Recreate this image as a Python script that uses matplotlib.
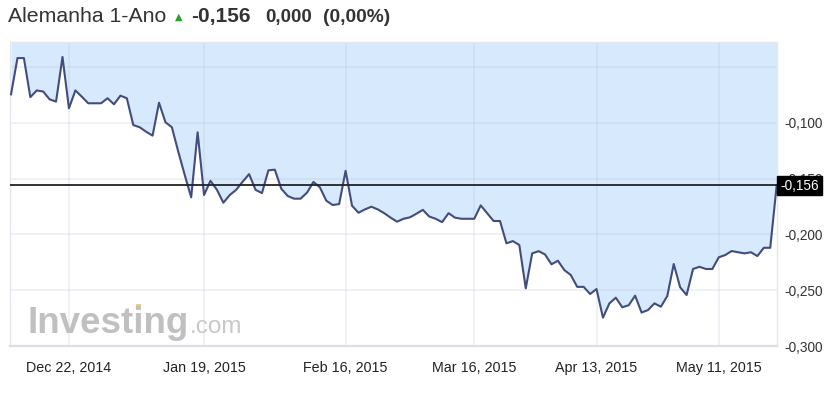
import numpy as np
import matplotlib
matplotlib.use("Agg")
import matplotlib.pyplot as plt
from matplotlib.ticker import FixedLocator, FuncFormatter
from matplotlib.patches import Rectangle

plt.rcParams['font.family'] = ['Liberation Sans', 'DejaVu Sans']

# daily yield values (Alemanha 1-Ano)
yields = [-0.0745, -0.042, -0.042, -0.077, -0.071, -0.072, -0.079, -0.081, -0.041, -0.087,
          -0.071, -0.0766, -0.0825, -0.0825, -0.0825, -0.078, -0.0834, -0.0757, -0.078, -0.102,
          -0.104, -0.108, -0.1115, -0.082, -0.0995, -0.104, -0.126, -0.1468, -0.1668, -0.1085,
          -0.1647, -0.152, -0.160, -0.1716, -0.1647, -0.160, -0.1528, -0.146, -0.160, -0.163,
          -0.1426, -0.142, -0.159, -0.1656, -0.168, -0.168, -0.1626, -0.153, -0.1578, -0.1698,
          -0.1737, -0.1728, -0.143, -0.1743, -0.1806, -0.1776, -0.1752, -0.1776, -0.181, -0.185,
          -0.1886, -0.186, -0.1847, -0.1815, -0.178, -0.184, -0.186, -0.189, -0.181, -0.185,
          -0.186, -0.186, -0.186, -0.174, -0.181, -0.188, -0.188, -0.208, -0.206, -0.2095,
          -0.2483, -0.217, -0.215, -0.218, -0.2268, -0.2236, -0.232, -0.2364, -0.247, -0.247,
          -0.2534, -0.249, -0.2746, -0.2618, -0.2567, -0.2653, -0.2635, -0.2549, -0.270, -0.2678,
          -0.2618, -0.2648, -0.2552, -0.2265, -0.2474, -0.2543, -0.231, -0.229, -0.231, -0.231,
          -0.2205, -0.2185, -0.2149, -0.216, -0.217, -0.216, -0.2194, -0.212, -0.212, -0.156]

# date labels and the index of the trading day they sit on
date_labels = ["Dec 22, 2014", "Jan 19, 2015", "Feb 16, 2015", "Mar 16, 2015", "Apr 13, 2015", "May 11, 2015"]
date_idx = [9, 30, 52, 72, 91, 110]

y_ticks = [-0.100, -0.150, -0.200, -0.250, -0.300]
last_value = -0.156

W, H = 832, 405
fig = plt.figure(figsize=(W / 100, H / 100), dpi=100)
ax = fig.add_axes([10 / W, 1 - 346 / H, (777 - 10) / W, (346 - 42) / H])

x = np.arange(len(yields))
ymax = -0.0276
ax.fill_between(x, yields, ymax, color='#d7e9fd', lw=0, zorder=1)
ax.plot(x, yields, color='#434d7d', lw=1.5, zorder=4)
ax.axhline(last_value, color='#222222', lw=1.3, zorder=5)

# grid
for gy in [-0.05] + y_ticks:
    ax.axhline(gy, color='#b8c4d8', alpha=0.28, lw=1.2, zorder=2)
for gx in date_idx:
    ax.axvline(gx, color='#b8c4d8', alpha=0.28, lw=1.2, zorder=2)

ax.set_xlim(-0.16, len(yields) - 1 + 0.05)
ax.set_ylim(-0.300, ymax)

ax.xaxis.set_major_locator(FixedLocator(date_idx))
ax.set_xticklabels(date_labels)
ax.yaxis.tick_right()
ax.yaxis.set_major_locator(FixedLocator(y_ticks))
ax.yaxis.set_major_formatter(FuncFormatter(lambda v, p: f"{v:.3f}".replace('.', ',')))
ax.tick_params(axis='x', length=0, pad=11, labelsize=10.3, colors='#222222')
ax.tick_params(axis='y', length=0, pad=5, labelsize=9.8, colors='#333333')
for lab in ax.get_yticklabels():
    lab.set_horizontalalignment('left')

for s in ['top', 'left', 'right']:
    ax.spines[s].set_color('#e4e7ee')
    ax.spines[s].set_linewidth(1)
ax.spines['bottom'].set_color('#dcdfe6')
ax.spines['bottom'].set_linewidth(1.6)

# last value box (covers most of the -0,150 label, as in the original)
fig.text(780 / W, 1 - 185.5 / H, "-0,156", color='white', fontsize=9.8, va='center', ha='left',
         bbox=dict(boxstyle='square,pad=0.22', fc='black', ec='black'), zorder=10)

# header
base = 1 - 22 / H
fig.text(8 / W, base, "Alemanha 1-Ano", fontsize=15.3, color='#333333', va='baseline')
fig.text(175 / W, base + 2 / H, "▲", fontsize=7, color='#2a9d2a', va='baseline', family='DejaVu Sans')
fig.text(191 / W, base, "-0,156", fontsize=15, fontweight='bold', color='#333333', va='baseline')
fig.text(265 / W, base, "0,000", fontsize=13.5, fontweight='bold', color='#333333', va='baseline')
fig.text(323 / W, base, "(0,00%)", fontsize=13.8, fontweight='bold', color='#333333', va='baseline')

# watermark
wm = 1 - 333 / H
fig.text(27 / W, wm, "Investing", fontsize=26.5, fontweight='bold', color='#c0c0c0', va='baseline')
fig.text(190 / W, wm, ".com", fontsize=17.5, color='#c8c8c8', va='baseline')
fig.patches.append(Rectangle((136 / W, 1 - 310 / H), 5 / W, 6 / H, transform=fig.transFigure,
                             color='#f7c680', lw=0))

fig.savefig("out.png", dpi=100, facecolor='white')
